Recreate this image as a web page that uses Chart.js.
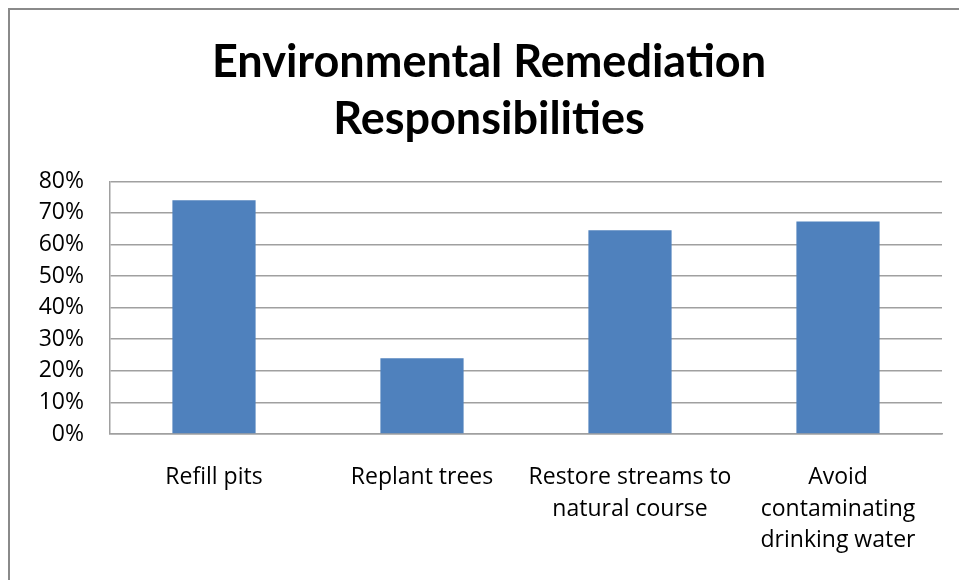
<!DOCTYPE html>
<html>
<head>
<meta charset="utf-8">
<script src="https://cdn.jsdelivr.net/npm/chart.js@4/dist/chart.umd.min.js"></script>
<style>
  html, body { margin: 0; padding: 0; background: #fff; overflow: hidden; }
  #frame { position: absolute; left: 8px; top: 8px; width: 1100px; height: 700px;
           border-left: 2px solid #8a8a8a; border-top: 2px solid #8a8a8a; }
  #wrap { position: absolute; left: 0; top: 0; width: 959px; height: 580px; }
</style>
</head>
<body>
<div id="frame"></div>
<div id="wrap"><canvas id="c" width="959" height="580"></canvas></div>
<script>
const titleLines = ["Environmental Remediation", "Responsibilities"];
const categories = [
  ["Refill pits"],
  ["Replant trees"],
  ["Restore streams to", "natural course"],
  ["Avoid", "contaminating", "drinking water"]
];
const values = [74.0, 24.0, 64.5, 67.3];
const yTicks = [0, 10, 20, 30, 40, 50, 60, 70, 80];

const TITLE_FONT = "Lato, 'Open Sans', sans-serif";
const TICK_FONT = "'Open Sans', Lato, sans-serif";

new Chart(document.getElementById('c'), {
  type: 'bar',
  data: {
    labels: categories,
    datasets: [{
      data: values,
      backgroundColor: '#4F81BD',
      borderWidth: 0,
      categoryPercentage: 1.0,
      barPercentage: 0.4
    }]
  },
  options: {
    responsive: false,
    animation: false,
    devicePixelRatio: 1,
    layout: { padding: { left: 36, right: 17, top: 0, bottom: 0 } },
    plugins: {
      legend: { display: false },
      tooltip: { enabled: false },
      title: {
        display: true,
        text: titleLines,
        color: '#000',
        font: { family: TITLE_FONT, size: 45, weight: 'bold', lineHeight: 1.27 },
        padding: { top: 34, bottom: 33 }
      }
    },
    scales: {
      x: {
        afterFit: (s) => { s.height = 146; },
        grid: { display: false, drawTicks: false },
        border: { display: true, color: '#a0a0a0', width: 1.5 },
        ticks: {
          color: '#000',
          font: { family: TICK_FONT, size: 23, lineHeight: 1.39 },
          padding: 27,
          maxRotation: 0,
          autoSkip: false
        }
      },
      y: {
        min: 0,
        max: 80,
        afterFit: (s) => { s.width = 74; },
        afterBuildTicks: (s) => { s.ticks = yTicks.map(v => ({ value: v })); },
        grid: { color: '#a0a0a0', lineWidth: 1.5, drawTicks: false },
        border: { display: true, color: '#a0a0a0', width: 1.5 },
        ticks: {
          color: '#000',
          font: { family: TICK_FONT, size: 23 },
          padding: 26,
          callback: (v) => v + '%'
        }
      }
    }
  }
});
</script>
</body>
</html>
